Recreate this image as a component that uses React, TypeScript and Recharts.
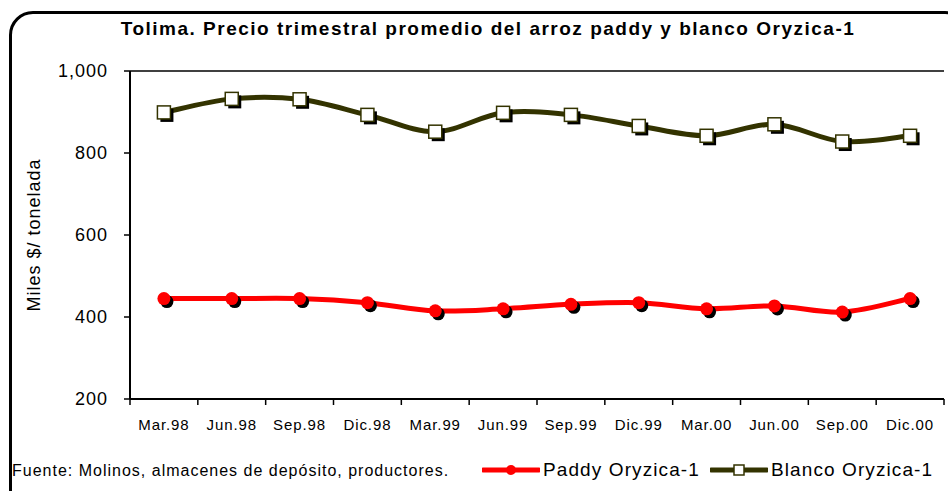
import * as React from "react";
import {
  CartesianGrid,
  Line,
  LineChart,
  XAxis,
  YAxis,
} from "recharts";

const quarters = [
  "Mar.98", "Jun.98", "Sep.98", "Dic.98",
  "Mar.99", "Jun.99", "Sep.99", "Dic.99",
  "Mar.00", "Jun.00", "Sep.00", "Dic.00",
];
const paddy = [445, 445, 445, 435, 415, 420, 431, 435, 420, 427, 412, 445];
const blanco = [899, 932, 931, 893, 852, 898, 893, 866, 842, 870, 828, 842];
const yTicks = [200, 400, 600, 800, 1000];

const data = quarters.map((q, i) => ({ q, paddy: paddy[i], blanco: blanco[i] }));

const W = 948;
const H = 491;
const M = { top: 71, right: 4, bottom: 62, left: 0 };
const Y_W = 130;
const BAND = (W - M.right - Y_W) / quarters.length;
const FONT = '"Liberation Sans", Arial, sans-serif';
const OLIVE = "#333300";

// Excel-like smoothed line (Catmull-Rom through the points)
function smooth(context: any) {
  let pts: number[][] = [];
  return {
    areaStart() {},
    areaEnd() {},
    lineStart() {
      pts = [];
    },
    point(x: number, y: number) {
      pts.push([+x, +y]);
    },
    lineEnd() {
      if (!pts.length) return;
      context.moveTo(pts[0][0], pts[0][1]);
      for (let i = 0; i < pts.length - 1; i++) {
        const p0 = pts[i - 1] || pts[i];
        const p1 = pts[i];
        const p2 = pts[i + 1];
        const p3 = pts[i + 2] || p2;
        context.bezierCurveTo(
          p1[0] + (p2[0] - p0[0]) / 6,
          p1[1] + (p2[1] - p0[1]) / 6,
          p2[0] - (p3[0] - p1[0]) / 6,
          p2[1] - (p3[1] - p1[1]) / 6,
          p2[0],
          p2[1]
        );
      }
    },
  };
}

const RoundDot = (p: any) => {
  if (p.cx == null || p.cy == null) return null;
  return (
    <g key={p.key}>
      <circle cx={p.cx + 3} cy={p.cy + 3} r={6.5} fill="#000" />
      <circle cx={p.cx} cy={p.cy} r={6.5} fill="#ff0000" />
    </g>
  );
};

const SquareDot = (p: any) => {
  if (p.cx == null || p.cy == null) return null;
  const s = 13;
  return (
    <g key={p.key}>
      <rect x={p.cx - s / 2 + 3} y={p.cy - s / 2 + 3} width={s} height={s} fill="#000" />
      <rect x={p.cx - s / 2} y={p.cy - s / 2} width={s} height={s} fill="#fff" stroke={OLIVE} strokeWidth={1.5} />
    </g>
  );
};

const QuarterTick = (p: any) => {
  const { x, y, payload, index } = p;
  const last = index === quarters.length - 1;
  return (
    <g>
      <line x1={x - BAND / 2} x2={x - BAND / 2} y1={y} y2={y + 6} stroke="#000" strokeWidth={1.5} />
      {last && <line x1={x + BAND / 2} x2={x + BAND / 2} y1={y} y2={y + 6} stroke="#000" strokeWidth={1.5} />}
      <text x={x} y={y + 31} textAnchor="middle" fontSize={15} fontFamily={FONT} fill="#000" letterSpacing={0.9}>
        {payload.value}
      </text>
    </g>
  );
};

const LegendBox = () => (
  <div style={{ display: "flex", alignItems: "center", fontFamily: FONT, fontSize: 19, letterSpacing: 1.1, color: "#000" }}>
    <svg width={58} height={16}>
      <line x1={1} x2={57} y1={8} y2={8} stroke="#ff0000" strokeWidth={5} strokeLinecap="round" />
      <circle cx={29} cy={8} r={5} fill="#ff0000" />
    </svg>
    <span style={{ marginLeft: 3, marginRight: 10 }}>Paddy Oryzica-1</span>
    <svg width={58} height={16}>
      <line x1={1} x2={57} y1={8} y2={8} stroke={OLIVE} strokeWidth={5} strokeLinecap="round" />
      <rect x={24} y={3} width={10} height={10} fill="#fff" stroke={OLIVE} strokeWidth={1.5} />
    </svg>
    <span style={{ marginLeft: 3 }}>Blanco Oryzica-1</span>
  </div>
);

export default function App() {
  return (
    <div style={{ position: "absolute", left: 0, top: 0, width: W, height: H, overflow: "hidden", background: "#fff" }}>
      <div
        style={{
          position: "absolute",
          left: 9,
          top: 11,
          width: 960,
          height: 520,
          border: "3px solid #000",
          borderRadius: 24,
          boxSizing: "border-box",
        }}
      />
      <div
        style={{
          position: "absolute",
          left: 0,
          width: 976,
          top: 18,
          textAlign: "center",
          fontFamily: FONT,
          fontWeight: "bold",
          fontSize: 19,
          letterSpacing: 1.5,
        }}
      >
        Tolima. Precio trimestral promedio del arroz paddy y blanco Oryzica-1
      </div>
      <div
        style={{
          position: "absolute",
          left: 12,
          top: 462,
          fontFamily: FONT,
          fontSize: 16,
          letterSpacing: 1,
        }}
      >
        Fuente: Molinos, almacenes de depósito, productores.
      </div>
      <div style={{ position: "absolute", left: 0, top: 0 }}>
        <LineChart width={W} height={H} data={data} margin={M}>
          <CartesianGrid horizontal vertical={false} stroke="#000" strokeWidth={1.5} />
          <XAxis
            dataKey="q"
            scale="band"
            interval={0}
            tickLine={false}
            tickSize={0}
            tickMargin={0}
            height={30}
            axisLine={{ stroke: "#000", strokeWidth: 2 }}
            tick={<QuarterTick />}
          />
          <YAxis
            yAxisId="l"
            domain={[200, 1000]}
            ticks={yTicks}
            width={Y_W}
            tickSize={6}
            tickMargin={16}
            tickFormatter={(v: number) => v.toLocaleString("en-US")}
            tick={{ fill: "#000", fontSize: 18, fontFamily: FONT, letterSpacing: 1 }}
            axisLine={{ stroke: "#000", strokeWidth: 2 }}
            tickLine={{ stroke: "#000", strokeWidth: 1.5 }}
            label={{
              value: "Miles $/ tonelada",
              angle: -90,
              position: "insideLeft",
              offset: 34,
              style: { textAnchor: "middle", fontSize: 18, fontFamily: FONT, fill: "#000", letterSpacing: 1 },
            }}
          />
          <YAxis
            yAxisId="r"
            orientation="right"
            width={0}
            domain={[200, 1000]}
            tick={false}
            tickLine={false}
            axisLine={{ stroke: "#000", strokeWidth: 1.5 }}
          />
          <Line
            yAxisId="l"
            dataKey="paddy"
            name="Paddy Oryzica-1"
            type={smooth as any}
            stroke="#ff0000"
            strokeWidth={5}
            dot={<RoundDot />}
            isAnimationActive={false}
          />
          <Line
            yAxisId="l"
            dataKey="blanco"
            name="Blanco Oryzica-1"
            type={smooth as any}
            stroke={OLIVE}
            strokeWidth={5}
            dot={<SquareDot />}
            isAnimationActive={false}
          />
        </LineChart>
      </div>
      <div style={{ position: "absolute", left: 482, top: 459 }}>
        <LegendBox />
      </div>
    </div>
  );
}
